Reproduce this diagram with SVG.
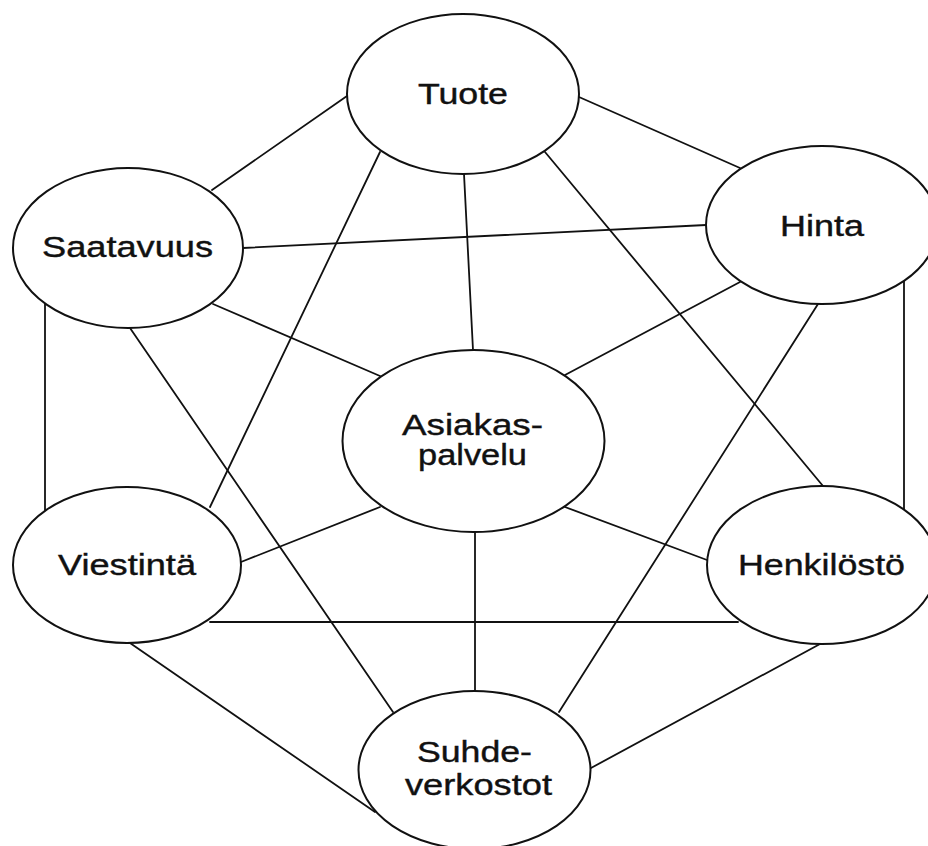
<svg xmlns="http://www.w3.org/2000/svg" width="928" height="846" viewBox="0 0 928 846">
<style>
.edge{stroke:#111;stroke-width:1.8;fill:none;stroke-linecap:round}
.node{fill:#fff;stroke:#111;stroke-width:2}
.lbl{font-family:"Liberation Sans",Arial,sans-serif;font-size:29px;fill:#111;stroke:#111;stroke-width:0.4;text-anchor:middle}
</style>
<rect width="928" height="846" fill="#fff"/>
<g id="connectors">
<line class="edge" x1="347" y1="96" x2="212" y2="190"/>
<line class="edge" x1="579" y1="97" x2="740" y2="168"/>
<line class="edge" x1="380" y1="152" x2="210" y2="507"/>
<line class="edge" x1="464" y1="174" x2="473" y2="350"/>
<line class="edge" x1="545" y1="152" x2="823" y2="486"/>
<line class="edge" x1="706" y1="225" x2="243" y2="248"/>
<line class="edge" x1="740" y1="282" x2="565" y2="375"/>
<line class="edge" x1="818" y1="304" x2="559" y2="712"/>
<line class="edge" x1="904" y1="281" x2="904" y2="509"/>
<line class="edge" x1="45" y1="304" x2="45" y2="510"/>
<line class="edge" x1="213" y1="304" x2="380" y2="376"/>
<line class="edge" x1="130" y1="328" x2="393" y2="712"/>
<line class="edge" x1="241" y1="562" x2="380" y2="507"/>
<line class="edge" x1="210" y1="622" x2="738" y2="622"/>
<line class="edge" x1="130" y1="643" x2="375" y2="812"/>
<line class="edge" x1="565" y1="507" x2="707" y2="560"/>
<line class="edge" x1="820" y1="644" x2="591" y2="768"/>
<line class="edge" x1="475" y1="532" x2="475" y2="691"/>
</g>
<g id="tuote">
<ellipse class="node" cx="463" cy="94" rx="116" ry="80"/>
<text class="lbl" x="463" y="104" textLength="90" lengthAdjust="spacingAndGlyphs">Tuote</text>
</g>
<g id="hinta">
<ellipse class="node" cx="822" cy="225" rx="116" ry="79"/>
<text class="lbl" x="822" y="236" textLength="84" lengthAdjust="spacingAndGlyphs">Hinta</text>
</g>
<g id="saatavuus">
<ellipse class="node" cx="128" cy="248" rx="115" ry="80"/>
<text class="lbl" x="127.5" y="257" textLength="171" lengthAdjust="spacingAndGlyphs">Saatavuus</text>
</g>
<g id="asiakaspalvelu">
<ellipse class="node" cx="473.5" cy="441" rx="131" ry="91"/>
<text class="lbl" x="472.5" y="435" textLength="141" lengthAdjust="spacingAndGlyphs">Asiakas-</text>
<text class="lbl" x="472.5" y="465" textLength="109" lengthAdjust="spacingAndGlyphs">palvelu</text>
</g>
<g id="viestinta">
<ellipse class="node" cx="127" cy="565" rx="114" ry="78"/>
<text class="lbl" x="127" y="575" textLength="138" lengthAdjust="spacingAndGlyphs">Viestintä</text>
</g>
<g id="henkilosto">
<ellipse class="node" cx="822" cy="565" rx="115" ry="79"/>
<text class="lbl" x="821.5" y="575" textLength="167" lengthAdjust="spacingAndGlyphs">Henkilöstö</text>
</g>
<g id="suhdeverkostot">
<ellipse class="node" cx="474.5" cy="770" rx="116" ry="79"/>
<text class="lbl" x="474.5" y="762" textLength="115" lengthAdjust="spacingAndGlyphs">Suhde-</text>
<text class="lbl" x="478.5" y="795" textLength="147" lengthAdjust="spacingAndGlyphs">verkostot</text>
</g>
</svg>
